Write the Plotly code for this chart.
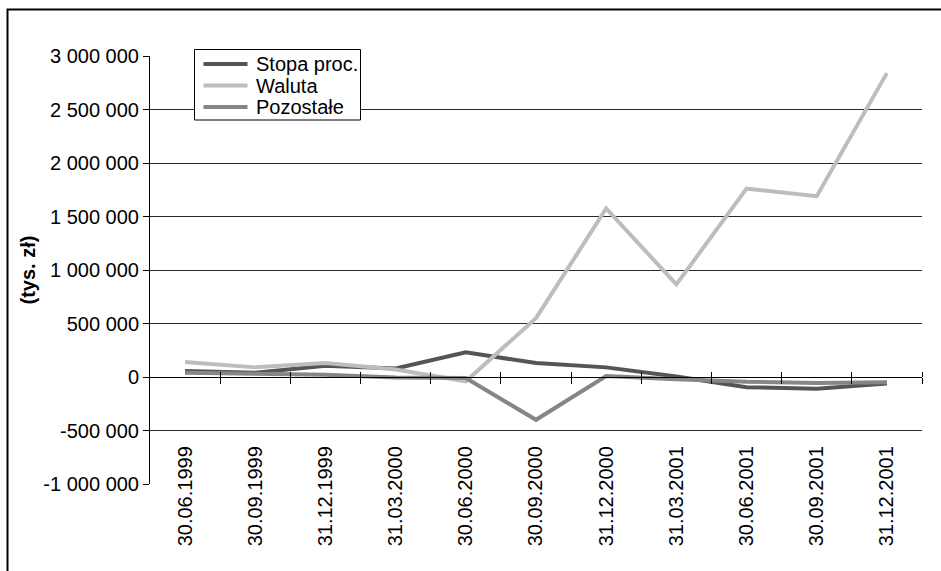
import plotly.graph_objects as go

# Quarter-end reporting dates
dates = ["30.06.1999", "30.09.1999", "31.12.1999", "31.03.2000", "30.06.2000",
         "30.09.2000", "31.12.2000", "31.03.2001", "30.06.2001", "30.09.2001",
         "31.12.2001"]

# Values in thousands of PLN
stopa_proc = [55000, 40000, 105000, 80000, 230000, 130000, 90000, 5000, -95000, -110000, -60000]
waluta = [140000, 90000, 130000, 70000, -40000, 550000, 1575000, 865000, 1760000, 1690000, 2840000]
pozostale = [40000, 30000, 20000, -5000, -10000, -400000, 10000, -20000, -45000, -55000, -50000]

series_names = ["Stopa proc.", "Waluta", "Pozostałe"]
series_values = [stopa_proc, waluta, pozostale]
series_colors = ["#555555", "#bdbdbd", "#868686"]

y_tick_vals = [-1000000, -500000, 0, 500000, 1000000, 1500000, 2000000, 2500000, 3000000]
y_tick_text = ["-1 000 000", "-500 000", "0", "500 000", "1 000 000", "1 500 000",
               "2 000 000", "2 500 000", "3 000 000"]

FONT = "Liberation Sans, Arial, sans-serif"
W, H = 941, 571
M_L, M_R, M_T, M_B = 150, 19, 56, 87
PW, PH = W - M_L - M_R, H - M_T - M_B

y_min, y_max = y_tick_vals[0], y_tick_vals[-1]
x_idx = list(range(len(dates)))
x_range = [-0.5, len(dates) - 0.5]
boundaries = [i + 0.5 for i in x_idx]
zero_frac = (0 - y_min) / (y_max - y_min)


def px_x(px):
    return (px - M_L) / PW


def px_y(py):
    return (M_T + PH - py) / PH


fig = go.Figure()

for name, vals, col in zip(series_names, series_values, series_colors):
    fig.add_trace(go.Scatter(x=x_idx, y=vals, name=name, mode="lines",
                             line=dict(color=col, width=4), showlegend=False))

# helper traces so the overlay axes are drawn
for xa, ya in [("x2", "y"), ("x3", "y"), ("x", "y2"), ("x", "y3")]:
    fig.add_trace(go.Scatter(x=[], y=[], xaxis=xa, yaxis=ya, showlegend=False,
                             hoverinfo="skip"))

tickfont = dict(family=FONT, size=20, color="black")

fig.update_layout(
    width=W, height=H,
    margin=dict(l=M_L, r=M_R, t=M_T, b=M_B),
    paper_bgcolor="white", plot_bgcolor="white",
    showlegend=False,
    font=dict(family=FONT, color="black"),
    xaxis=dict(range=x_range, tickvals=x_idx, ticktext=dates, tickangle=-90,
               tickfont=tickfont, showgrid=False, showline=False, ticks="",
               zeroline=False, anchor="free", position=0.10),
    xaxis2=dict(range=x_range, overlaying="x", anchor="free", position=zero_frac,
                tickvals=boundaries, showticklabels=False, ticks="outside",
                ticklen=6, tickcolor="black", showline=True, linecolor="black",
                linewidth=1, showgrid=False, zeroline=False),
    xaxis3=dict(range=x_range, overlaying="x", anchor="free", position=zero_frac,
                side="top", tickvals=boundaries, showticklabels=False,
                ticks="outside", ticklen=5, tickcolor="black", showline=False,
                showgrid=False, zeroline=False),
    yaxis=dict(range=[y_min, y_max], tickvals=y_tick_vals, ticktext=y_tick_text,
               tickfont=tickfont, ticks="outside", ticklen=6, tickcolor="black",
               showline=True, linecolor="black", linewidth=1, showgrid=False,
               zeroline=False),
    yaxis2=dict(range=[y_min, y_max], overlaying="y", anchor="x",
                tickvals=y_tick_vals[1:], showticklabels=False, ticks="",
                showgrid=True, gridcolor="#2a2a2a", gridwidth=1, zeroline=False,
                showline=False),
    yaxis3=dict(range=[y_min, y_max], overlaying="y", anchor="x",
                tickvals=y_tick_vals[:1], showticklabels=False, ticks="",
                showgrid=True, gridcolor="#ececec", gridwidth=1, zeroline=False,
                showline=False),
)

# y-axis title
fig.add_annotation(text="<b>(tys. zł)</b>", xref="paper", yref="paper",
                   x=px_x(27.5), y=px_y(270), xanchor="center", yanchor="middle",
                   textangle=-90, showarrow=False,
                   font=dict(family=FONT, size=20, color="black"))

# legend box
shapes = [dict(type="rect", xref="paper", yref="paper",
               x0=px_x(194.5), x1=px_x(360.5), y0=px_y(120), y1=px_y(49.5),
               line=dict(color="black", width=1), fillcolor="white", layer="above")]
rows = [64, 85.5, 107]
for name, col, ry in zip(series_names, series_colors, rows):
    shapes.append(dict(type="line", xref="paper", yref="paper",
                       x0=px_x(203.5), x1=px_x(247.5), y0=px_y(ry), y1=px_y(ry),
                       line=dict(color=col, width=4), layer="above"))
    fig.add_annotation(text=name, xref="paper", yref="paper", x=px_x(254),
                       y=px_y(ry), xanchor="left", yanchor="middle",
                       showarrow=False, font=dict(family=FONT, size=20, color="black"))

# outer chart frame
shapes.append(dict(type="rect", xref="paper", yref="paper",
                   x0=px_x(7.5), x1=px_x(W + 20), y0=px_y(H + 20), y1=px_y(9.5),
                   line=dict(color="black", width=2), fillcolor="rgba(0,0,0,0)",
                   layer="above"))
fig.update_layout(shapes=shapes)

fig.write_html("out.html")
